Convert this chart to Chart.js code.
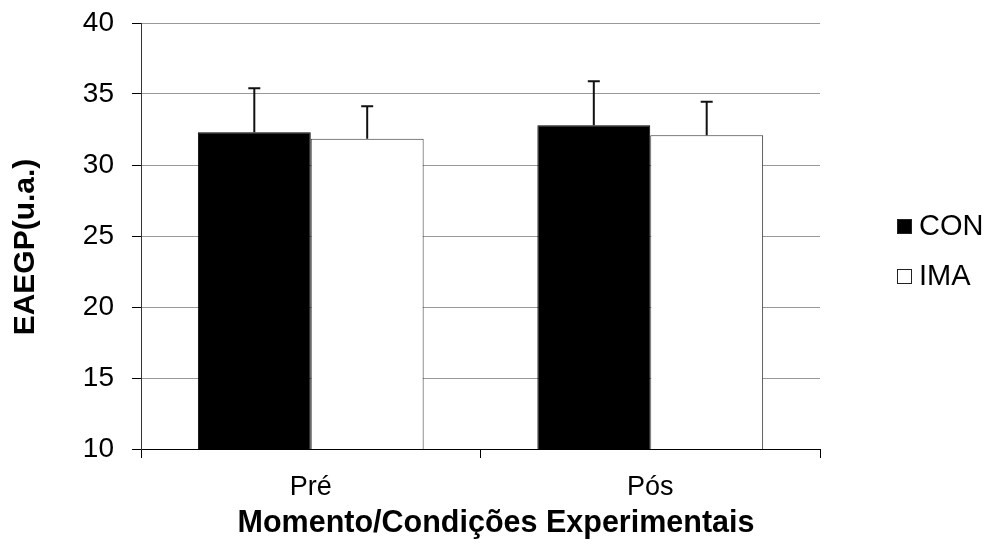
<!DOCTYPE html>
<html>
<head>
<meta charset="utf-8">
<script src="https://cdn.jsdelivr.net/npm/chart.js@4/dist/chart.umd.min.js"></script>
<style>
  html, body { margin: 0; padding: 0; background: #fff; }
  #wrap { width: 992px; height: 544px; position: relative; }
</style>
</head>
<body>
<div id="wrap"><canvas id="c" width="992" height="544"></canvas></div>
<script>
const categories = ['Pré', 'Pós'];
const seriesNames = ['CON', 'IMA'];
const conValues = [32.3, 32.8];
const conErrors = [3.1, 3.1];
const imaValues = [31.85, 32.1];
const imaErrors = [2.28, 2.36];
const yTicks = [10, 15, 20, 25, 30, 35, 40];
const yTitle = 'EAEGP(u.a.)';
const xTitle = 'Momento/Condições Experimentais';

const FONT = '"Liberation Sans", Arial, sans-serif';

const errorBars = {
  id: 'errorBars',
  afterDatasetsDraw(chart) {
    const ctx = chart.ctx;
    const ys = chart.scales.y;
    chart.data.datasets.forEach((ds, di) => {
      const meta = chart.getDatasetMeta(di);
      meta.data.forEach((el, i) => {
        const v = ds.data[i];
        const e = ds.errors[i];
        const top = ys.getPixelForValue(v + e);
        ctx.save();
        ctx.strokeStyle = '#111';
        ctx.lineWidth = 2;
        ctx.beginPath();
        ctx.moveTo(el.x, el.y);
        ctx.lineTo(el.x, top);
        ctx.moveTo(el.x - 6, top);
        ctx.lineTo(el.x + 6, top);
        ctx.stroke();
        ctx.restore();
      });
    });
  }
};

const axisTitles = {
  id: 'axisTitles',
  afterDraw(chart) {
    const ctx = chart.ctx;
    ctx.save();
    ctx.fillStyle = '#000';
    ctx.textAlign = 'center';
    ctx.textBaseline = 'middle';
    ctx.font = 'bold 30.5px ' + FONT;
    ctx.fillText(xTitle, 496, 524);
    ctx.translate(26, 247);
    ctx.rotate(-Math.PI / 2);
    ctx.font = 'bold 30px ' + FONT;
    ctx.fillText(yTitle, 0, 0);
    ctx.restore();
  }
};

const customLegend = {
  id: 'customLegend',
  afterDraw(chart) {
    const ctx = chart.ctx;
    const x0 = chart.chartArea.right + 77;
    const ys0 = [226, 276];
    chart.data.datasets.forEach((ds, i) => {
      const cy = ys0[i];
      ctx.save();
      ctx.fillStyle = ds.backgroundColor;
      ctx.fillRect(x0, cy - 7, 15, 15);
      ctx.strokeStyle = '#222';
      ctx.lineWidth = 1;
      ctx.strokeRect(x0 + 0.5, cy - 6.5, 14, 14);
      ctx.fillStyle = '#000';
      ctx.font = '29px ' + FONT;
      ctx.textBaseline = 'middle';
      ctx.textAlign = 'left';
      ctx.fillText(ds.label, x0 + 22, cy + 1);
      ctx.restore();
    });
  }
};

new Chart(document.getElementById('c'), {
  type: 'bar',
  data: {
    labels: categories,
    datasets: [
      { label: seriesNames[0], data: conValues, errors: conErrors,
        backgroundColor: '#000000', borderColor: '#000000', borderWidth: 1,
        categoryPercentage: 0.665, barPercentage: 1.0 },
      { label: seriesNames[1], data: imaValues, errors: imaErrors,
        backgroundColor: '#ffffff', borderColor: '#333333', borderWidth: 1,
        categoryPercentage: 0.665, barPercentage: 1.0 }
    ]
  },
  options: {
    responsive: false,
    animation: false,
    devicePixelRatio: 1,
    layout: { padding: { top: 23, right: 172, left: 0, bottom: 0 } },
    plugins: { legend: { display: false }, tooltip: { enabled: false } },
    scales: {
      x: {
        grid: { display: true, drawOnChartArea: false, drawTicks: true, tickLength: 9, color: '#000', tickColor: '#000', offset: true },
        border: { display: true, color: '#000', width: 1 },
        ticks: { color: '#000', font: { family: FONT, size: 27 }, padding: 13, maxRotation: 0 },
        title: { display: false },
        afterFit(s) { s.height = 95; s.paddingLeft = 0; s.paddingRight = 0; }
      },
      y: {
        min: 10, max: 40,
        afterBuildTicks(s) { s.ticks = yTicks.map(v => ({ value: v })); },
        grid: { color: '#999999', tickColor: '#000', tickLength: 9, lineWidth: 1 },
        border: { display: true, color: '#333', width: 1 },
        ticks: { color: '#000', font: { family: FONT, size: 28 }, padding: 18 },
        title: { display: false },
        afterFit(s) { s.width = 141; s.paddingTop = 0; s.paddingBottom = 0; }
      }
    }
  },
  plugins: [errorBars, axisTitles, customLegend]
});
</script>
</body>
</html>
